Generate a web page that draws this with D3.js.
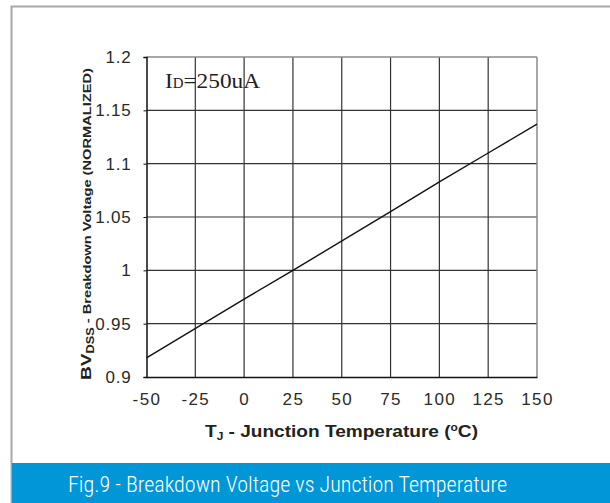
<!DOCTYPE html>
<html><head><meta charset="utf-8">
<script src="https://cdn.jsdelivr.net/npm/d3@7"></script>
<style>body{margin:0;background:#fff}svg{display:block}</style>
</head><body>
<script>
const temps = [-50, 0, 25, 75, 100, 125, 150];
const bvNorm = [0.918, 0.973, 1.0, 1.055, 1.083, 1.110, 1.137];
const xTicks = [-50, -25, 0, 25, 50, 75, 100, 125, 150];
const xTickLabels = ["-50", "-25", "0", "25", "50", "75", "100", "125", "150"];
const yTicks = [0.9, 0.95, 1, 1.05, 1.1, 1.15, 1.2];
const yTickLabels = ["0.9", "0.95", "1", "1.05", "1.1", "1.15", "1.2"];

const W = 610, H = 503;
const svg = d3.select("body").append("svg").attr("width", W).attr("height", H);

svg.append("rect").attr("x", 11.5).attr("y", 6.5).attr("width", 620).attr("height", 520)
  .attr("fill", "#fff").attr("stroke", "#a8a8a8").attr("stroke-width", 2);
svg.append("rect").attr("x", 12).attr("y", 463).attr("width", 600).attr("height", 40).attr("fill", "#0096d8");
svg.append("text").attr("x", 68).attr("y", 492).attr("fill", "#fff")
  .attr("font-family", "'Liberation Sans Narrow','Roboto Condensed','Liberation Sans',Arial,sans-serif")
  .attr("font-weight", 300)
  .attr("font-size", 22).attr("textLength", 439).attr("lengthAdjust", "spacingAndGlyphs")
  .text("Fig.9 -  Breakdown Voltage vs Junction Temperature");

const L = 146.5, R = 537, T = 57, B = 377;
const x = d3.scaleLinear().domain([-50, 150]).range([L, R]);
const y = d3.scaleLinear().domain([0.9, 1.2]).range([B, T]);

const g = svg.append("g");
g.selectAll(".vg").data(xTicks.slice(1, -1)).enter().append("line")
  .attr("x1", d => x(d)).attr("x2", d => x(d)).attr("y1", T).attr("y2", B)
  .attr("stroke", "#333").attr("stroke-width", 1.2);
g.selectAll(".hg").data(yTicks.slice(1, -1)).enter().append("line")
  .attr("x1", L).attr("x2", R).attr("y1", d => y(d)).attr("y2", d => y(d))
  .attr("stroke", "#333").attr("stroke-width", 1.2);
g.append("line").attr("x1", L).attr("x2", R).attr("y1", T).attr("y2", T).attr("stroke", "#8a8a8a").attr("stroke-width", 1.5);
g.append("line").attr("x1", R).attr("x2", R).attr("y1", T).attr("y2", B).attr("stroke", "#8a8a8a").attr("stroke-width", 1.5);

const font = "'Liberation Sans',Arial,sans-serif";
const yAxis = svg.append("g").attr("transform", `translate(${L},0)`)
  .call(d3.axisLeft(y).tickValues(yTicks).tickFormat((d, i) => yTickLabels[i]).tickSize(3).tickPadding(12));
yAxis.selectAll("text").style("font-family", font).style("font-size", "17px").style("letter-spacing", "0.8px").attr("fill", "#2a2a2a");
const xAxis = svg.append("g").attr("transform", `translate(0,${B})`)
  .call(d3.axisBottom(x).tickValues(xTicks).tickFormat((d, i) => xTickLabels[i]).tickSize(0).tickPadding(16));
xAxis.selectAll("text").style("font-family", font).style("font-size", "17px").style("letter-spacing", "1.4px").attr("fill", "#2a2a2a");
svg.selectAll(".domain").attr("stroke", "#111").attr("stroke-width", 1.5);
svg.selectAll(".tick line").attr("stroke", "#111");

svg.append("path").datum(temps.map((t, i) => [t, bvNorm[i]]))
  .attr("d", d3.line().x(d => x(d[0])).y(d => y(d[1])))
  .attr("fill", "none").attr("stroke", "#111").attr("stroke-width", 1.4);

const ann = svg.append("text").attr("x", 165).attr("y", 88)
  .attr("font-family", "'Liberation Serif','Times New Roman',serif").attr("font-size", 22).attr("fill", "#222")
  .attr("textLength", 95).attr("lengthAdjust", "spacingAndGlyphs");
ann.append("tspan").text("I");
ann.append("tspan").attr("font-size", 14).text("D");
ann.append("tspan").text("=250uA");

const xt = svg.append("text").attr("x", 205).attr("y", 437)
  .attr("font-family", font).attr("font-weight", "bold").attr("font-size", 16).attr("fill", "#222")
  .attr("textLength", 273).attr("lengthAdjust", "spacingAndGlyphs");
xt.append("tspan").text("T");
xt.append("tspan").attr("font-size", 10).attr("dy", 3).text("J");
xt.append("tspan").attr("dy", -3).text(" - Junction Temperature (");
xt.append("tspan").attr("font-size", 10).attr("dy", -6).text("o");
xt.append("tspan").attr("dy", 6).text("C)");

const yt = svg.append("text").attr("transform", "translate(91,380) rotate(-90)")
  .attr("font-family", font).attr("font-weight", "bold").attr("font-size", 11.5).attr("fill", "#222")
  .attr("textLength", 312).attr("lengthAdjust", "spacingAndGlyphs");
yt.append("tspan").attr("font-size", 15).text("BV");
yt.append("tspan").attr("font-size", 10).attr("dy", 3).text("DSS");
yt.append("tspan").attr("dy", -3).text(" - Breakdown Voltage (NORMALIZED)");
</script>
</body></html>
